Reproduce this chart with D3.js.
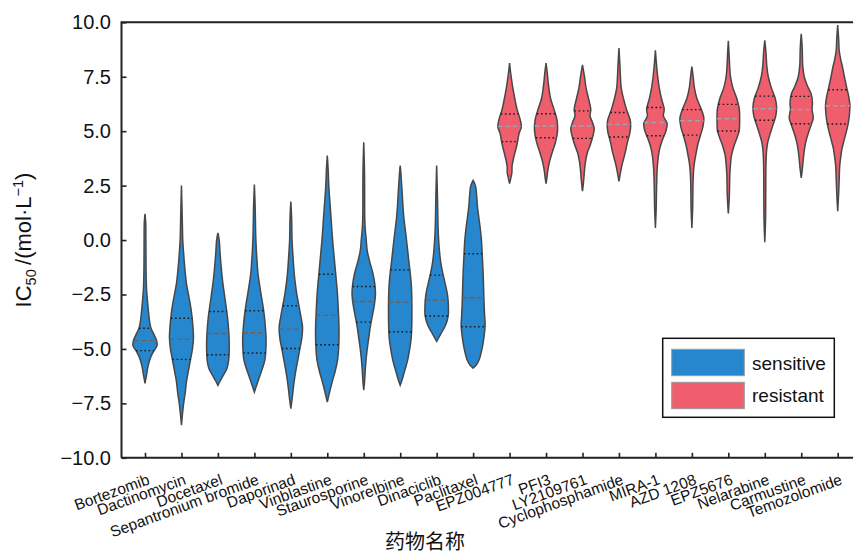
<!DOCTYPE html>
<html><head><meta charset="utf-8">
<script src="https://cdn.jsdelivr.net/npm/d3@7"></script>
<style>body{margin:0;background:#fff}svg{display:block}</style>
</head><body><svg id="c" width="853" height="555"></svg>
<script>
const drugs = ["Bortezomib","Dactinomycin","Docetaxel","Sepantronium bromide","Daporinad","Vinblastine","Staurosporine","Vinorelbine","Dinaciclib","Paclitaxel",
  "EPZ004777","PFI3","LY2109761","Cyclophosphamide","MIRA-1","AZD 1208","EPZ5676","Nelarabine","Carmustine","Temozolomide"];
const groups = ["sensitive","sensitive","sensitive","sensitive","sensitive","sensitive","sensitive","sensitive","sensitive","sensitive",
  "resistant","resistant","resistant","resistant","resistant","resistant","resistant","resistant","resistant","resistant"];
const groupNames = ["sensitive","resistant"];
// [q1, median, q3]
const quartiles = [
  [-5.08,-4.62,-4.05],[-5.48,-4.56,-3.59],[-5.27,-4.29,-3.28],[-5.19,-4.26,-3.25],[-4.98,-4.09,-3.02],
  [-4.81,-3.46,-1.57],[-3.77,-2.82,-2.13],[-4.21,-2.85,-1.37],[-3.49,-2.76,-1.61],[-3.98,-2.65,-0.63],
  [4.52,5.22,5.79],[4.70,5.24,5.80],[4.67,5.24,5.93],[4.73,5.31,5.86],[4.79,5.40,6.09],
  [4.82,5.48,5.99],[5.01,5.57,6.23],[5.50,6.03,6.61],[5.34,5.99,6.60],[5.33,6.17,6.90]
];
// density profiles: [value, density]
const profiles = [
  [[1.2,0],[0.8,0.7],[0,0.9],[-1.5,1.1],[-2.3,1.6],[-2.8,2.5],[-3.3,3.5],[-3.8,4.8],[-4.05,6],[-4.3,8.5],[-4.6,11.5],[-4.85,12],[-5.08,9],[-5.4,5.5],[-5.8,3],[-6.2,1.5],[-6.58,0]],
  [[2.5,0],[1.0,0.8],[0,1.3],[-0.5,2],[-1,2.8],[-1.5,3.8],[-2,5],[-2.5,7],[-3,9],[-3.5,10.5],[-4,11.5],[-4.5,12],[-5,11],[-5.5,9],[-6,7],[-6.5,5],[-7,3.8],[-7.5,2.2],[-8,1],[-8.5,0]],
  [[0.33,0],[0,1.3],[-0.5,2],[-1,2.8],[-1.5,3.8],[-2,5],[-2.5,6.5],[-3,8],[-3.5,9.5],[-4,10.5],[-4.5,11.2],[-5,11.3],[-5.5,10.8],[-5.9,9],[-6.2,5.5],[-6.45,2.5],[-6.67,0]],
  [[2.55,0],[1.5,0.8],[0.5,1.2],[0,1.5],[-0.5,2],[-1,2.7],[-1.5,3.5],[-2,5],[-2.5,6.7],[-3,8.5],[-3.5,10],[-4,11],[-4.5,11.7],[-5,11.5],[-5.5,10.5],[-5.9,8],[-6.3,5],[-6.7,2],[-6.98,0]],
  [[1.77,0],[1,0.8],[0,1.2],[-0.5,1.8],[-1,2.5],[-1.5,3.3],[-2,4.5],[-2.5,6],[-3,8],[-3.5,10],[-4,11.7],[-4.5,11],[-5,9],[-5.5,7],[-6,5],[-6.5,3.3],[-7,2],[-7.4,1],[-7.74,0]],
  [[3.88,0],[3.3,0.8],[2.5,1.5],[2,2.2],[1.5,3],[1,3.8],[0.5,4.5],[0,5.3],[-0.5,6.3],[-1,7.3],[-1.5,8.3],[-2,9.3],[-2.5,10.2],[-3,10.8],[-3.5,11.3],[-4,11.7],[-4.5,11.7],[-5,11.3],[-5.5,10.3],[-6,8],[-6.5,5],[-7,2.2],[-7.44,0]],
  [[4.49,0],[3,0.8],[1,1],[0.5,1.5],[0,2.5],[-0.5,3.5],[-1,6],[-1.5,9],[-2,11],[-2.5,11.7],[-3,10.5],[-3.5,8.5],[-4,6.5],[-4.5,5],[-5,3.5],[-5.5,2.3],[-6,1.5],[-6.5,0.8],[-6.89,0]],
  [[3.42,0],[3,0.8],[2.5,1.5],[2,2.2],[1.5,2.8],[1,3.7],[0.5,5],[0,6.3],[-0.5,7.5],[-1,8.7],[-1.5,10],[-2,11],[-2.5,11.5],[-3,11.7],[-3.5,11.7],[-4,11.5],[-4.5,11],[-5,9.5],[-5.5,7.5],[-6,4.5],[-6.4,2],[-6.67,0]],
  [[3.42,0],[2,0.8],[1,1.2],[0.5,1.5],[0,2],[-0.5,2.8],[-1,4],[-1.5,6],[-2,8.5],[-2.5,10.8],[-3,11.7],[-3.5,11.5],[-3.9,9],[-4.2,5.5],[-4.45,2.5],[-4.66,0]],
  [[2.74,0],[2.5,2.3],[2,3.6],[1.55,4.3],[1,5.8],[0.5,7.2],[0,8.3],[-0.75,9.2],[-1.5,10],[-2.25,10.5],[-3,11],[-3.5,11.5],[-3.9,12],[-4.4,11],[-4.9,9.3],[-5.5,6],[-5.75,3],[-5.88,0]],
  [[8.13,0],[7.7,1],[7.3,2.2],[7,3.2],[6.5,5.2],[6,7.5],[5.5,10.8],[5.2,11.7],[4.9,9.5],[4.6,8.3],[4.3,7],[4,5.3],[3.7,3.7],[3.4,2.5],[3.1,2.3],[2.9,1.5],[2.59,0]],
  [[8.13,0],[7.7,1.2],[7.3,2],[7,2.8],[6.5,4.5],[6,8],[5.5,11],[5,11.5],[4.5,9.5],[4,6],[3.6,3.5],[3.2,1.8],[2.9,1],[2.59,0]],
  [[8.05,0],[7.5,2],[7,3.5],[6.5,6],[6,8.3],[5.7,7.5],[5.4,10],[5.1,11.7],[4.8,10.5],[4.4,8],[4,4.8],[3.6,3],[3.2,2],[2.8,1.3],[2.24,0]],
  [[8.82,0],[8,1],[7.5,1.5],[7,2.2],[6.5,4.5],[6,7.5],[5.5,11.3],[5.2,11.7],[4.9,10.8],[4.5,8.5],[4,6.2],[3.5,3.3],[3.1,1.5],[2.7,0]],
  [[8.71,0],[8,1.2],[7.5,2.3],[7,3.8],[6.5,6],[6,8.8],[5.7,8],[5.35,11.7],[5,10.5],[4.6,7],[4.2,4.3],[3.8,2.8],[3.3,1.8],[2.5,1.2],[1.5,0.8],[0.56,0]],
  [[7.97,0],[7.5,1.3],[7,2.5],[6.5,5],[6,9.5],[5.6,12],[5.2,11],[4.8,8.5],[4.4,6],[4,4.3],[3.6,2.7],[3.2,1.7],[2.5,1.1],[1.5,0.8],[0.56,0]],
  [[9.15,0],[8.5,0.8],[8,1.3],[7.5,2.2],[7,4.5],[6.5,8.5],[6,11],[5.5,11.3],[5,10.8],[4.7,8.7],[4.3,5.5],[3.9,3.2],[3.5,2.2],[3,1.5],[2,1],[1.22,0]],
  [[9.17,0],[8.6,1.2],[8,2],[7.5,3.5],[7,6.5],[6.5,10.5],[6.1,11.8],[5.7,11],[5.3,8.3],[4.9,5.5],[4.5,3],[4.1,1.8],[3.5,1.2],[2.5,1],[1,0.8],[-0.1,0]],
  [[9.47,0],[8.8,1],[8,1.5],[7.5,3],[7.1,6],[6.7,10],[6.3,11.2],[6,10.8],[5.6,12],[5.3,10],[4.9,7],[4.5,4.5],[4.1,3],[3.7,2],[3.3,1.2],[2.85,0]],
  [[9.87,0],[9.2,1],[8.7,1.5],[8.3,3],[7.9,5],[7.5,6.7],[7,9],[6.6,11],[6.2,12.2],[5.8,11.8],[5.4,10.7],[5,8.8],[4.6,6.5],[4.2,4.3],[3.8,3],[3.4,2],[2.8,1.5],[2.2,1],[1.32,0]]
];
const yTicks = [-10,-7.5,-5,-2.5,0,2.5,5,7.5,10];

const fillColor = d3.scaleOrdinal().domain(groupNames).range(["#2687cf","#ee5e6d"]);
const medianColor = d3.scaleOrdinal().domain(groupNames).range(["#7d5a44","#98a6b6"]);

const svg = d3.select("#c");
const plotLeft = 121.5, plotTop = 22.3, plotBottom = 457.8;
const x = d3.scalePoint().domain(drugs).range([145, 837.7]);
const y = d3.scaleLinear().domain([-10, 10]).range([plotBottom, plotTop]);
const w = d3.scaleLinear().domain([0, 12]).range([0, 12]);

function widthAt(prof, v) {
  for (let i = 0; i < prof.length - 1; i++) {
    const a = prof[i], b = prof[i+1];
    if (v <= a[0] && v >= b[0]) {
      const t = (a[0] - v) / (a[0] - b[0]);
      return a[1] + t * (b[1] - a[1]);
    }
  }
  return 0;
}

const gV = svg.append("g");
drugs.forEach((d, i) => {
  const cx = x(d);
  const prof = profiles[i];
  const area = d3.area()
    .y(p => y(p[0]))
    .x0(p => cx - w(p[1]))
    .x1(p => cx + w(p[1]))
    .curve(d3.curveCatmullRom.alpha(0.5));
  gV.append("path").attr("d", area(prof))
    .attr("fill", fillColor(groups[i]))
    .attr("stroke", "#474747").attr("stroke-width", 1.5);
  const q = quartiles[i];
  [q[0], q[2]].forEach(v => {
    const hw = w(widthAt(prof, v));
    gV.append("line").attr("x1", cx - hw).attr("x2", cx + hw)
      .attr("y1", y(v)).attr("y2", y(v))
      .attr("stroke", "#1a1a1a").attr("stroke-width", 1.4)
      .attr("stroke-dasharray", "1.6,2.6");
  });
  const hm = w(widthAt(prof, q[1]));
  gV.append("line").attr("x1", cx - hm).attr("x2", cx + hm)
    .attr("y1", y(q[1])).attr("y2", y(q[1]))
    .attr("stroke", medianColor(groups[i])).attr("stroke-width", 1.4)
    .attr("stroke-dasharray", "4.5,3");
});

// axes
const fmt = d3.format(".1f");
const gy = svg.append("g").attr("transform", `translate(${plotLeft},0)`)
  .call(d3.axisLeft(y).tickValues(yTicks).tickFormat(fmt).tickSize(-5).tickPadding(10.5));
gy.select(".domain").remove();
gy.selectAll("line").attr("stroke", "#222").attr("stroke-width", 1.6);
gy.selectAll("text").attr("font-family", "Liberation Sans, Arial, sans-serif").attr("font-size", 20).attr("fill", "#111");

const gx = svg.append("g").attr("transform", `translate(0,${plotBottom})`)
  .call(d3.axisBottom(x).tickSize(-5));
gx.select(".domain").remove();
gx.selectAll("line").attr("stroke", "#222").attr("stroke-width", 1.6);
gx.selectAll("text")
  .attr("x", 0).attr("y", 0).attr("dy", 0)
  .attr("transform", "translate(5,26) rotate(-20)")
  .attr("text-anchor", "end")
  .attr("font-family", "Liberation Sans, Arial, sans-serif").attr("font-size", 15.5).attr("fill", "#111");

// frame
svg.append("path").attr("d", `M${plotLeft},${plotBottom}V${plotTop}H853M${plotLeft},${plotBottom}H853`)
  .attr("fill", "none").attr("stroke", "#222").attr("stroke-width", 2);

// axis titles
const yl = svg.append("text").attr("transform", "translate(31,240) rotate(-90)")
  .attr("text-anchor", "middle").attr("font-family", "Liberation Sans, Arial, sans-serif")
  .attr("font-size", 22).attr("fill", "#111");
yl.append("tspan").text("IC");
yl.append("tspan").attr("font-size", 14.5).attr("dy", 5).text("50");
yl.append("tspan").attr("dy", -5).text("\u2009/(mol\u00b7L");
yl.append("tspan").attr("font-size", 14.5).attr("dy", -8).text("\u22121");
yl.append("tspan").attr("dy", 8).text(")");

svg.append("text").attr("x", 425).attr("y", 549).attr("text-anchor", "middle")
  .attr("font-family", "Noto Sans CJK SC, sans-serif").attr("font-size", 20).attr("fill", "#111")
  .text("药物名称");

// legend
const lg = svg.append("g");
lg.append("rect").attr("x", 662.7).attr("y", 338.3).attr("width", 171.6).attr("height", 79)
  .attr("fill", "#fff").attr("stroke", "#111").attr("stroke-width", 1.5);
groupNames.forEach((g, i) => {
  lg.append("rect").attr("x", 671.7).attr("y", 349.3 + i * 33).attr("width", 72.6).attr("height", 26.4)
    .attr("fill", fillColor(g)).attr("stroke", "#999").attr("stroke-width", 1);
  lg.append("text").attr("x", 752).attr("y", 363 + i * 32 + 7)
    .attr("font-family", "Liberation Sans, Arial, sans-serif").attr("font-size", 19).attr("fill", "#111")
    .text(g);
});
</script></body></html>
